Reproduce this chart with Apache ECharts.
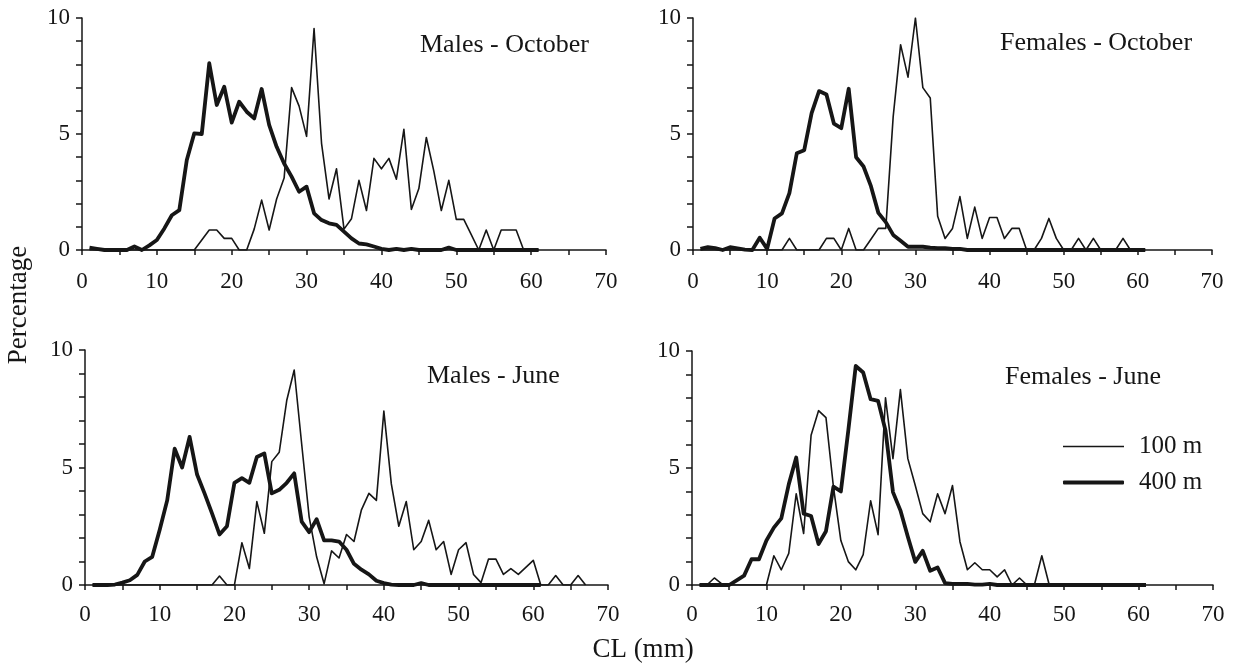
<!DOCTYPE html>
<html>
<head>
<meta charset="utf-8">
<title>CL frequency distributions</title>
<script src="https://cdn.jsdelivr.net/npm/echarts@6/dist/echarts.min.js"></script>
<style>
  html, body { margin: 0; padding: 0; background: #fff; }
  #chart { width: 1234px; height: 665px; }
</style>
</head>
<body>
<div id="chart"></div>
<script>
// Carapace length classes (mm)
const CL = [1,2,3,4,5,6,7,8,9,10,11,12,13,14,15,16,17,18,19,20,
  21,22,23,24,25,26,27,28,29,30,31,32,33,34,35,36,37,38,39,40,
  41,42,43,44,45,46,47,48,49,50,51,52,53,54,55,56,57,58,59,60,
  61,62,63,64,65,66,67];

const xTicks = [0, 10, 20, 30, 40, 50, 60, 70];
const yTicks = [0, 5, 10];

// Percentage of individuals per 1 mm class
const malesOct100 = [0,0,0,0,0,0,0,0,0,0,0,0,0,0,0,0.43,0.86,0.86,0.5,0.5,
  0,0,0.9,2.15,0.86,2.2,3.1,7.0,6.2,4.9,9.55,4.6,2.2,3.5,0.9,1.35,3.0,1.7,3.95,3.5,
  3.95,3.05,5.2,1.75,2.65,4.85,3.4,1.7,3.0,1.32,1.32,0.66,0,0.86,0,0.86,0.86,0.86,0,0,0];
const malesOct400 = [0.1,0.05,0,0,0,0,0.15,0,0.2,0.43,0.93,1.5,1.72,3.88,5.03,5.0,8.05,6.25,7.04,5.49,
  6.39,5.96,5.67,6.94,5.39,4.45,3.73,3.16,2.51,2.73,1.58,1.29,1.15,1.08,0.79,0.5,0.28,0.24,0.15,0.05,
  0,0.05,0,0.05,0,0,0,0,0.1,0,0,0,0,0,0,0,0,0,0,0,0];

const femalesOct100 = [0,0,0,0,0,0,0,0,0,0,0,0,0.5,0,0,0,0,0.5,0.5,0,
  0.93,0,0,0.46,0.93,0.93,5.75,8.85,7.45,10.0,7.0,6.55,1.45,0.5,0.93,2.3,0.5,1.85,0.5,1.4,
  1.4,0.5,0.93,0.93,0,0,0.5,1.36,0.5,0,0,0.5,0,0.5,0,0,0,0.5,0,0,0];
const femalesOct400 = [0.05,0.12,0.08,0,0.12,0.07,0.02,0,0.53,0.05,1.36,1.58,2.45,4.17,4.3,5.9,6.85,6.7,5.45,5.25,
  6.95,4.0,3.6,2.75,1.6,1.2,0.65,0.4,0.14,0.14,0.14,0.1,0.08,0.08,0.05,0.05,0,0,0,0,
  0,0,0,0,0,0,0,0,0,0,0,0,0,0,0,0,0,0,0,0,0];

const malesJun100 = [0,0,0,0,0,0,0,0,0,0,0,0,0,0,0,0,0,0.38,0,0,
  1.8,0.7,3.55,2.2,5.25,5.65,7.85,9.15,6.0,2.9,1.2,0.05,1.45,1.15,2.15,1.85,3.2,3.9,3.6,7.4,
  4.3,2.5,3.55,1.5,1.85,2.75,1.5,1.85,0.45,1.5,1.8,0.45,0.1,1.1,1.1,0.45,0.7,0.45,0.75,1.05,
  0,0,0.4,0,0,0.4,0];
const malesJun400 = [0,0,0,0.02,0.1,0.2,0.43,1.0,1.2,2.35,3.6,5.8,5.0,6.3,4.7,3.9,3.05,2.15,2.5,4.35,
  4.55,4.35,5.45,5.6,3.9,4.05,4.35,4.75,2.7,2.25,2.8,1.9,1.9,1.85,1.5,0.9,0.65,0.45,0.18,0.08,
  0.02,0,0,0,0.08,0,0,0,0,0,0,0,0,0,0,0,0,0,0,0,0];

const femalesJun100 = [0,0,0.3,0.05,0,0,0,0,0,0,1.25,0.65,1.35,3.9,2.2,6.4,7.45,7.15,4.2,1.9,
  1.0,0.65,1.3,3.6,2.15,8.0,5.4,8.35,5.4,4.25,3.05,2.7,3.9,3.05,4.25,1.85,0.65,0.95,0.65,0.65,
  0.35,0.65,0,0.3,0,0,1.25,0,0,0,0,0,0,0,0,0,0,0,0,0,0];
const femalesJun400 = [0,0,0,0,0,0.2,0.4,1.1,1.1,1.9,2.45,2.85,4.3,5.45,3.05,2.95,1.75,2.3,4.2,4.0,
  6.6,9.36,9.08,7.94,7.87,6.6,3.97,3.19,2.06,0.99,1.46,0.61,0.75,0.08,0.05,0.05,0.05,0.02,0.02,0.05,
  0,0,0,0,0,0,0,0,0,0,0,0,0,0,0,0,0,0,0,0,0];

const panelTitles = ['Males - October', 'Females - October', 'Males - June', 'Females - June'];
const depthNames = ['100 m', '400 m'];

const FONT = '"Liberation Serif", "Times New Roman", serif';
const INK = '#161616';
const THIN = 1.6;
const THICK = 3.8;

const grids = [
  { left: 82,  top: 18,  width: 524, height: 232 },
  { left: 693, top: 18,  width: 519, height: 232 },
  { left: 85,  top: 350, width: 523, height: 235 },
  { left: 692, top: 351, width: 521, height: 234 }
];

function pairs(values) {
  return values.map((v, i) => [CL[i], v]);
}

function xAxis(gi, margin) {
  return {
    type: 'value', gridIndex: gi,
    min: xTicks[0], max: xTicks[xTicks.length - 1], interval: xTicks[1] - xTicks[0],
    axisLine: { show: true, onZero: false, lineStyle: { color: INK, width: 1.5 } },
    axisTick: { show: true, length: 5, lineStyle: { color: INK, width: 1.5 } },
    minorTick: { show: true, splitNumber: 2, length: 5, lineStyle: { color: INK, width: 1.5 } },
    splitLine: { show: false },
    minorSplitLine: { show: false },
    axisLabel: { margin: margin, color: INK, fontSize: 23, fontFamily: FONT }
  };
}

function yAxis(gi) {
  return {
    type: 'value', gridIndex: gi,
    min: yTicks[0], max: yTicks[yTicks.length - 1], interval: yTicks[1] - yTicks[0],
    axisLine: { show: true, lineStyle: { color: INK, width: 1.5 } },
    axisTick: { show: true, length: 6, lineStyle: { color: INK, width: 1.5 } },
    minorTick: { show: true, splitNumber: 5, length: 6, lineStyle: { color: INK, width: 1.5 } },
    splitLine: { show: false },
    minorSplitLine: { show: false },
    axisLabel: { margin: 12, color: INK, fontSize: 23, fontFamily: FONT }
  };
}

function lineSeries(gi, name, values, width) {
  return {
    type: 'line', name: name,
    xAxisIndex: gi, yAxisIndex: gi,
    data: pairs(values),
    symbol: 'none', showSymbol: false,
    lineStyle: { color: INK, width: width, join: 'round' },
    itemStyle: { color: INK },
    animation: false
  };
}

const titlePos = [
  { left: 420, top: 32 },
  { left: 1000, top: 30 },
  { left: 427, top: 363 },
  { left: 1005, top: 364 }
];

const panels = [
  [malesOct100, malesOct400],
  [femalesOct100, femalesOct400],
  [malesJun100, malesJun400],
  [femalesJun100, femalesJun400]
];

const series = [];
panels.forEach((p, gi) => {
  series.push(lineSeries(gi, depthNames[0], p[0], THIN));
  series.push(lineSeries(gi, depthNames[1], p[1], THICK));
});

// One legend block per depth so each key line can carry its own stroke weight
function legendBlock(name, top, weight) {
  return {
    data: [{ name: name, icon: weight > 2 ? 'roundRect' : 'rect' }],
    orient: 'vertical',
    left: 1063, top: top,
    padding: 0,
    itemWidth: 61, itemHeight: weight,
    selectedMode: false,
    itemStyle: { color: INK, borderWidth: 0 },
    textStyle: { color: INK, fontSize: 25, fontFamily: FONT, padding: [0, 0, 0, 10] }
  };
}

const chart = echarts.init(document.getElementById('chart'), null, { renderer: 'canvas' });
chart.setOption({
  backgroundColor: '#fff',
  animation: false,
  grid: grids,
  xAxis: [xAxis(0, 20), xAxis(1, 20), xAxis(2, 18), xAxis(3, 18)],
  yAxis: [yAxis(0), yAxis(1), yAxis(2), yAxis(3)],
  title: panelTitles.map((t, i) => ({
    text: t, left: titlePos[i].left, top: titlePos[i].top, padding: 0,
    textStyle: { color: INK, fontSize: 26, fontWeight: 'normal', fontFamily: FONT }
  })),
  legend: [
    legendBlock(depthNames[0], 434, THIN),
    legendBlock(depthNames[1], 470, THICK + 0.4)
  ],
  graphic: [
    {
      type: 'text', x: 19, y: 305, rotation: Math.PI / 2,
      style: { text: 'Percentage', fill: INK, fontSize: 27, fontFamily: FONT, align: 'center', verticalAlign: 'middle' }
    },
    {
      type: 'text', x: 643, y: 650,
      style: { text: 'CL (mm)', fill: INK, fontSize: 27, fontFamily: FONT, align: 'center', verticalAlign: 'middle' }
    }
  ],
  series: series
});
</script>
</body>
</html>
